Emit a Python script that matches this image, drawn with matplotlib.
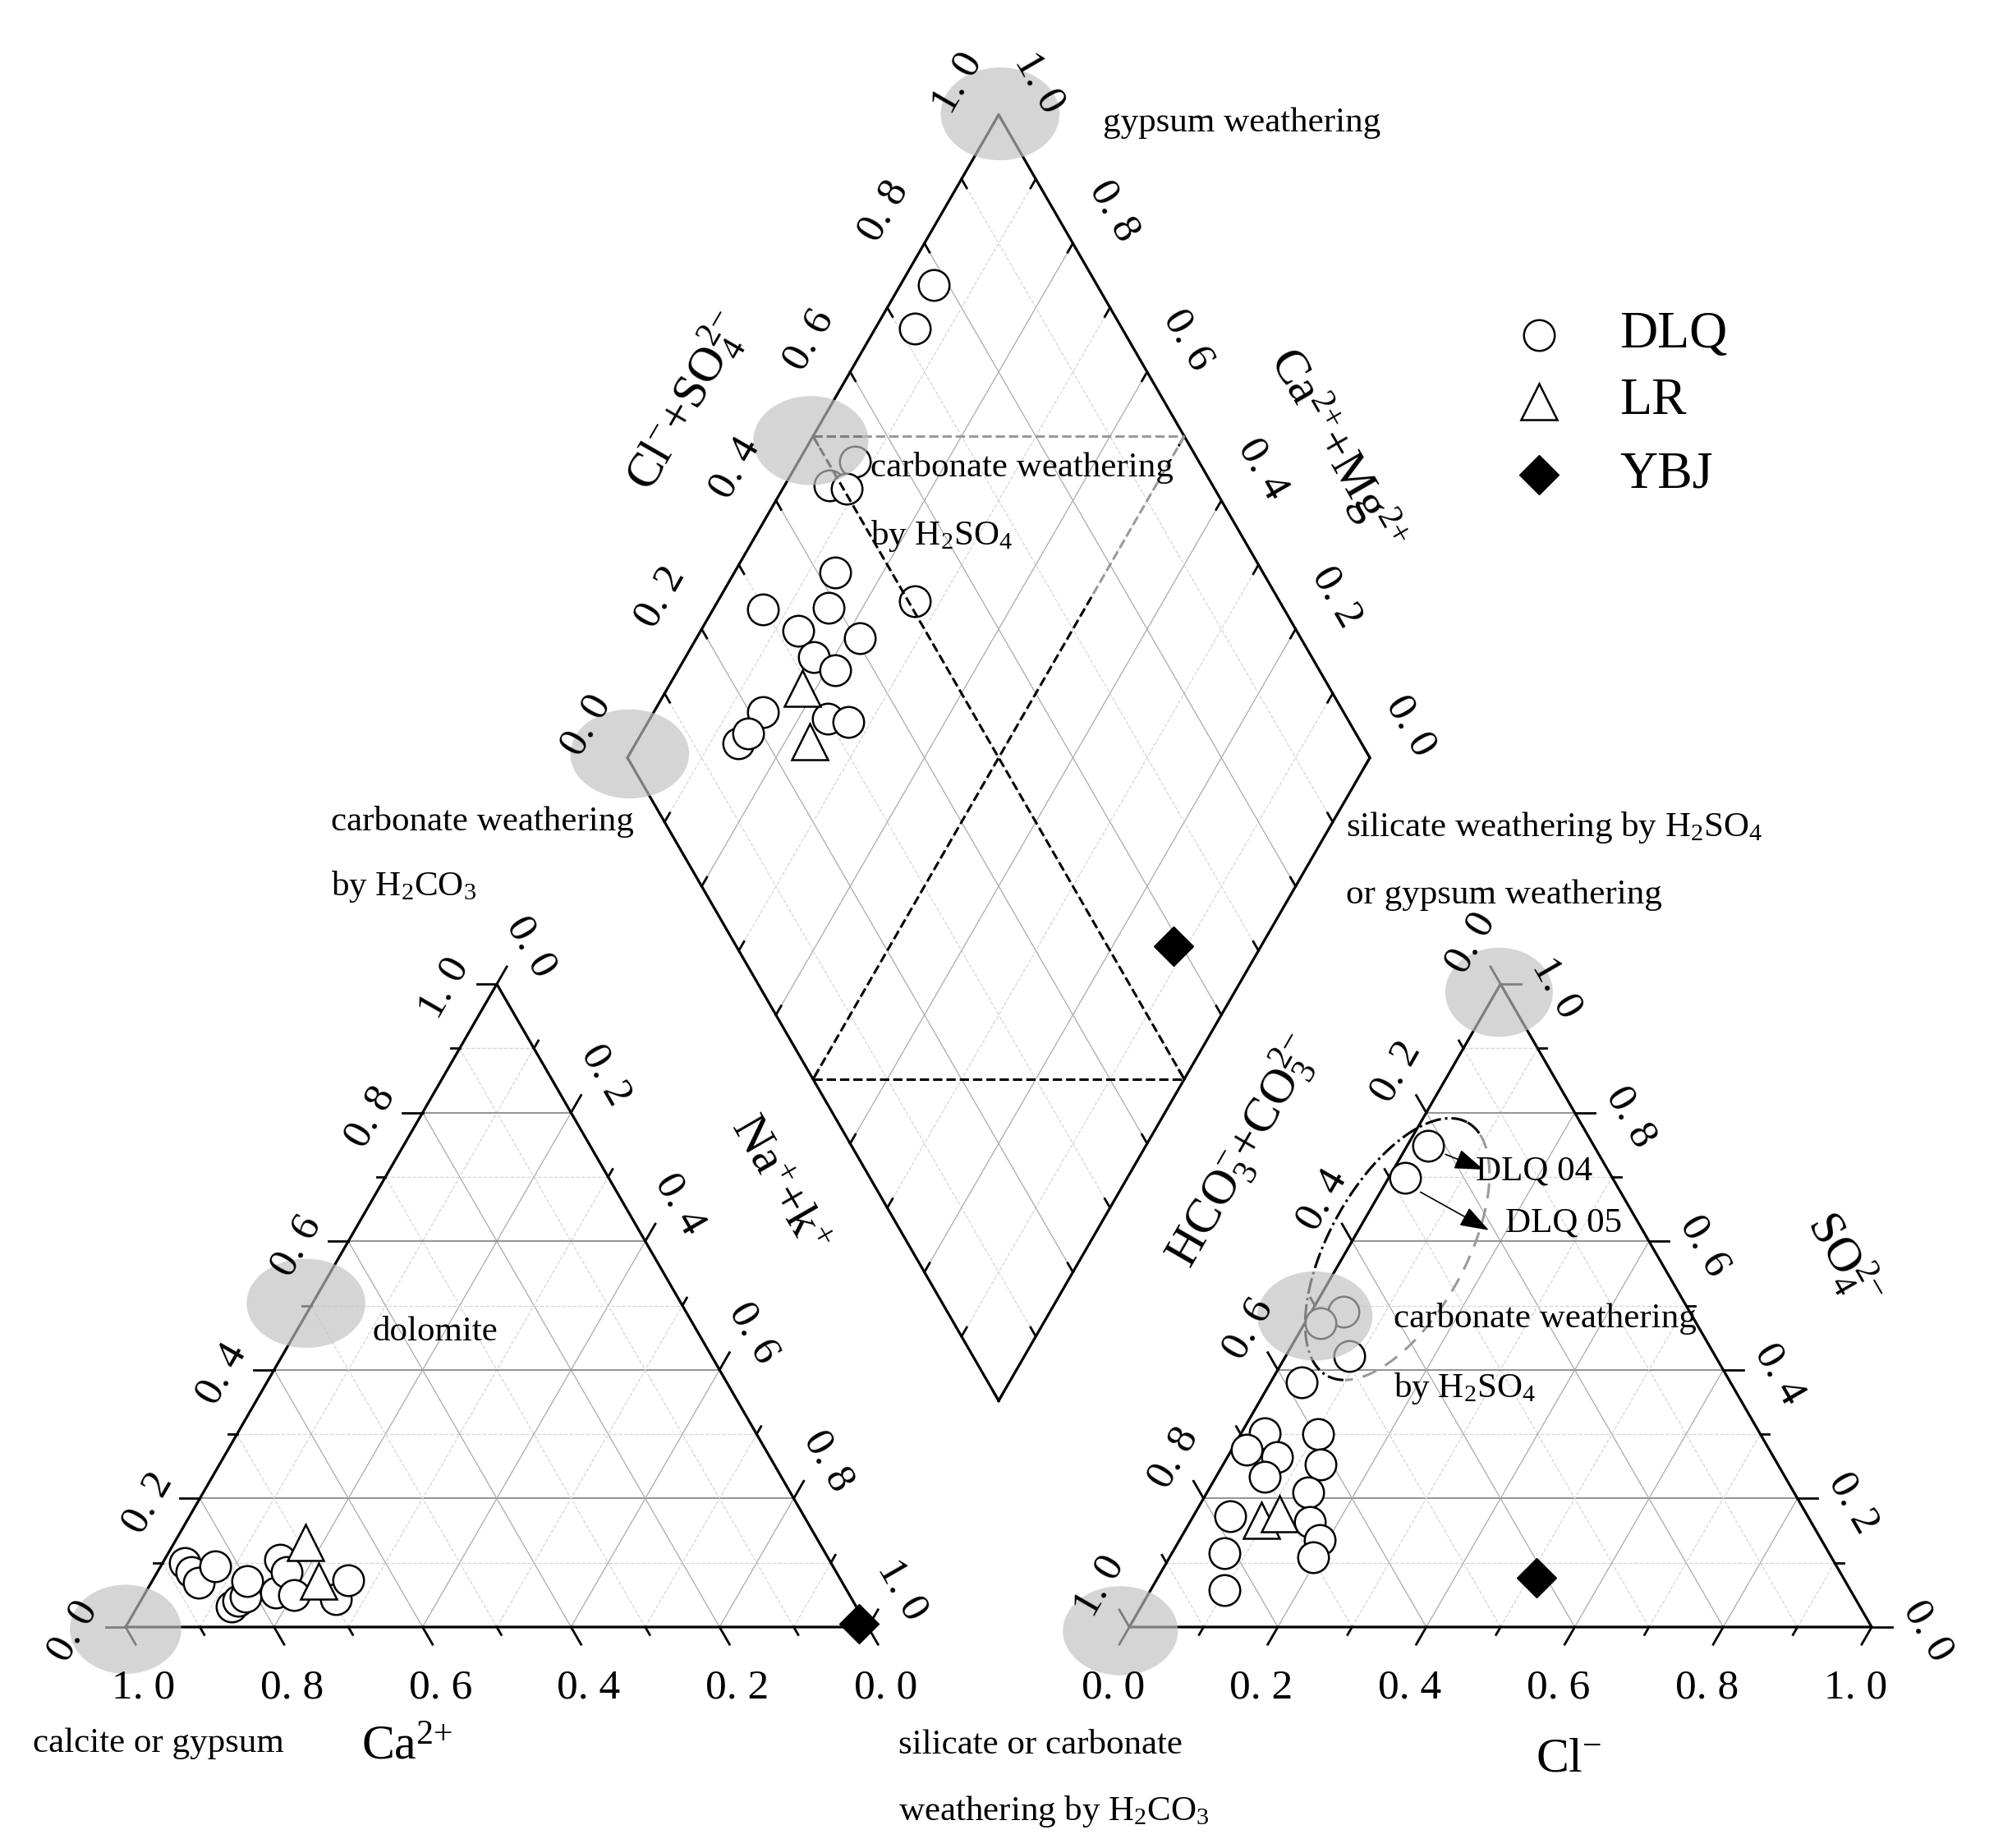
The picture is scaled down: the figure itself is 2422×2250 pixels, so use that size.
import numpy as np
import matplotlib.pyplot as plt
from matplotlib.patches import Ellipse

plt.rcParams['font.family'] = ['Liberation Serif', 'DejaVu Serif']
plt.rcParams['mathtext.fontset'] = 'custom'
plt.rcParams['mathtext.rm'] = 'Liberation Serif'
plt.rcParams['mathtext.default'] = 'rm'

# cation triangle: Ca2+ and Mg2+ fractions (Na+ + K+ = rest)
dlq_ca = [0.871, 0.869, 0.867, 0.832, 0.841, 0.828, 0.815, 0.801, 0.771, 0.740, 0.740, 0.748, 0.695, 0.664]
dlq_mg = [0.099, 0.086, 0.069, 0.095, 0.032, 0.041, 0.047, 0.071, 0.054, 0.105, 0.086, 0.050, 0.044, 0.073]
lr_ca = [0.692, 0.704]
lr_mg = [0.131, 0.071]
ybj_ca = [0.01]
ybj_mg = [0.005]

# anion triangle: Cl- and SO4 2- fractions (HCO3 + CO3 = rest)
dlq_cl = [0.043, 0.022, 0.086, 0.042, 0.031, 0.020, 0.066, 0.104, 0.065, 0.131,
          0.136, 0.050, 0.161, 0.188, 0.071, 0.194, 0.100]
dlq_so4 = [0.491, 0.472, 0.421, 0.380, 0.302, 0.276, 0.265, 0.300, 0.234, 0.253,
           0.210, 0.172, 0.164, 0.136, 0.115, 0.108, 0.057]
dlq04 = (0.029, 0.748)
dlq05 = (0.022, 0.699)
lr_cl = [0.095, 0.114]
lr_so4 = [0.166, 0.176]
ybj_cl = [0.511]
ybj_so4 = [0.076]

# diamond: Cl- + SO4 2- and Ca2+ + Mg2+
dlq_a = [0.780, 0.721, 0.536, 0.484, 0.424, 0.298, 0.387, 0.509, 0.329, 0.406,
         0.329, 0.348, 0.218, 0.300, 0.326, 0.160, 0.181, 0.504]
dlq_c = [0.955, 0.947, 0.924, 0.939, 0.864, 0.933, 0.846, 0.735, 0.868, 0.780,
         0.828, 0.788, 0.853, 0.761, 0.730, 0.862, 0.857, 0.914]
lr_a = [0.290, 0.258]
lr_c = [0.818, 0.767]
ybj_a = [0.589]
ybj_c = [0.118]

tick_vals = [0.0, 0.2, 0.4, 0.6, 0.8, 1.0]

# geometry -----------------------------
H = np.sqrt(3) / 2
GAP = 0.352
OX = 1 + GAP                       # anion triangle origin
BX, BY = 1 + GAP / 2, GAP * H      # diamond bottom vertex


def cat_xy(ca, mg):
    ca, mg = np.asarray(ca), np.asarray(mg)
    return 1 - ca - 0.5 * mg, H * mg


def an_xy(cl, so4):
    cl, so4 = np.asarray(cl), np.asarray(so4)
    return OX + cl + 0.5 * so4, H * so4


def dia_xy(a, c):
    a, c = np.asarray(a), np.asarray(c)
    return BX + 0.5 * (a - c), BY + H * (a + c)


def lab(v):
    s = '%.1f' % v
    return s.replace('.', '. ')


fig = plt.figure(figsize=(24.22, 22.5), dpi=100)
ax = fig.add_axes([0, 0, 1, 1])
ax.set_xlim(-0.1692, 2.510)
ax.set_ylim(-0.2976, 2.1914)
ax.axis('off')

MAJ = dict(color='#8a8a8a', lw=1.3, zorder=1)
DIAG = dict(color='#aaaaaa', lw=0.9, zorder=1)
MINOR = dict(color='#d6d6d6', lw=0.9, ls='--', zorder=1)

# grids of the two triangles
for ox in (0, OX):
    for k in range(1, 10):
        f = k / 10
        major = k % 2 == 0
        ax.plot([ox + f / 2, ox + 1 - f / 2], [f * H, f * H], **(MAJ if major else MINOR))
        ax.plot([ox + f, ox + f + (1 - f) / 2], [0, (1 - f) * H], **(DIAG if major else MINOR))
        ax.plot([ox + 1 - f, ox + (1 - f) / 2], [0, (1 - f) * H], **(DIAG if major else MINOR))
    ax.plot([ox, ox + 1, ox + 0.5, ox], [0, 0, H, 0], color='k', lw=2.3, zorder=2)

# diamond grid
for k in range(1, 10):
    f = k / 10
    st = DIAG if k % 2 == 0 else MINOR
    x, y = dia_xy([f, f], [0, 1])
    ax.plot(x, y, **st)
    x, y = dia_xy([0, 1], [f, f])
    ax.plot(x, y, **st)
x, y = dia_xy([0, 1, 1, 0, 0], [0, 0, 1, 1, 0])
ax.plot(x, y, color='k', lw=2.3, zorder=2)


def ticks(px, py, d, vals, maj_len=0.027, min_len=0.012):
    for i, v in enumerate(vals):
        L = maj_len if i % 2 == 0 else min_len
        ax.plot([px[i], px[i] + d[0] * L], [py[i], py[i] + d[1] * L], color='k', lw=2.0, zorder=2)


allv = np.linspace(0, 1, 11)
# cation triangle ticks
ticks(*cat_xy(allv, 0 * allv), (0.5, -H), allv)
ticks(*cat_xy(1 - allv, allv), (-1, 0), allv)
ticks(*cat_xy(0 * allv, 1 - allv), (0.5, H), allv)
# anion triangle
ticks(*an_xy(allv, 0 * allv), (-0.5, -H), allv)
ticks(*an_xy(0 * allv, 1 - allv), (-0.5, H), allv)
ticks(*an_xy(1 - allv, allv), (1, 0), allv)
# diamond (inward)
ticks(*dia_xy(allv, 1 + 0 * allv), (0.5, -H), allv, 0.014, 0.014)
ticks(*dia_xy(1 + 0 * allv, allv), (-0.5, -H), allv, 0.014, 0.014)
ticks(*dia_xy(0 * allv, allv), (0.5, H), allv, 0.014, 0.014)
ticks(*dia_xy(allv, 0 * allv), (-0.5, H), allv, 0.014, 0.014)

TL = dict(fontsize=37, ha='center', va='center', zorder=6)
for v in tick_vals:
    x, y = cat_xy(v, 0)
    ax.text(x + 0.024, y - 0.082, lab(v), **TL)
    x, y = cat_xy(1 - v, v)
    ax.text(x - 0.07, y - 0.006, lab(v), rotation=60, **TL)
    x, y = cat_xy(0, 1 - v)
    ax.text(x + 0.046, y + 0.05, lab(v), rotation=-60, **TL)
    x, y = an_xy(v, 0)
    ax.text(x - 0.022, y - 0.082, lab(v), **TL)
    x, y = an_xy(0, 1 - v)
    ax.text(x - 0.04, y + 0.055, lab(v), rotation=60, **TL)
    x, y = an_xy(1 - v, v)
    ax.text(x + 0.075, y - 0.006, lab(v), rotation=-60, **TL)
    x, y = dia_xy(v, 1)
    ax.text(x - 0.055, y + 0.043, lab(v), rotation=60, **TL)
    x, y = dia_xy(1, v)
    ax.text(x + 0.055, y + 0.043, lab(v), rotation=-60, **TL)

# dashed lines in the diamond
ul, ur = dia_xy(0.5, 1), dia_xy(1, 0.5)
lr_, ll = dia_xy(0.5, 0), dia_xy(0, 0.5)
DK = dict(color='k', lw=2.2, ls='--', zorder=4)
GR = dict(color='#9a9a9a', lw=2.2, ls='--', zorder=4)
xm = ul[0] + 0.066
ax.plot([ul[0], xm], [ul[1], ul[1]], **DK)
ax.plot([xm, ur[0]], [ul[1], ur[1]], **GR)
ax.plot([ll[0], lr_[0]], [ll[1], lr_[1]], **DK)
ax.plot([ul[0], lr_[0]], [ul[1], lr_[1]], **DK)
mid = (ur[0] + 0.25 * (ll[0] - ur[0]), ur[1] + 0.25 * (ll[1] - ur[1]))
ax.plot([ur[0], mid[0]], [ur[1], mid[1]], **GR)
ax.plot([mid[0], ll[0]], [mid[1], ll[1]], **DK)

# samples
CIR = dict(ls='none', marker='o', ms=27, mfc='white', mec='k', mew=1.8, zorder=3)
TRI = dict(ls='none', marker='^', ms=32, mfc='white', mec='k', mew=1.8, zorder=3)
DIA = dict(ls='none', marker='D', ms=24, mfc='k', mec='k', zorder=3)
ax.plot(*cat_xy(dlq_ca, dlq_mg), **CIR)
ax.plot(*cat_xy(lr_ca, lr_mg), **TRI)
ax.plot(*cat_xy(ybj_ca, ybj_mg), **DIA)
ax.plot(*an_xy(dlq_cl + [dlq04[0], dlq05[0]], dlq_so4 + [dlq04[1], dlq05[1]]), **CIR)
ax.plot(*an_xy(lr_cl, lr_so4), **TRI)
ax.plot(*an_xy(ybj_cl, ybj_so4), **DIA)
ax.plot(*dia_xy(dlq_a, dlq_c), **CIR)
ax.plot(*dia_xy(lr_a, lr_c), **TRI)
ax.plot(*dia_xy(ybj_a, ybj_c), **DIA)

# gray highlight ellipses
for (cx, cy, w, h) in [(1.178, 2.038, 0.16, 0.125), (0.679, 1.176, 0.16, 0.12),
                       (0.923, 1.598, 0.155, 0.12), (0.0, -0.003, 0.15, 0.12),
                       (0.243, 0.436, 0.16, 0.12), (1.850, 0.855, 0.145, 0.12),
                       (1.602, 0.419, 0.155, 0.12), (1.340, -0.005, 0.155, 0.12)]:
    ax.add_patch(Ellipse((cx, cy), w, h, fc='#c0c0c0', ec='none', alpha=0.66, zorder=5))

# dashed outline around DLQ 04 / DLQ 05
ang = np.radians(61)
u = np.array([np.cos(ang), np.sin(ang)])
n = np.array([np.sin(ang), -np.cos(ang)])
cen = np.array([1.713, 0.509])
t = np.linspace(0, 2 * np.pi, 300)
pts = cen[:, None] + 0.195 * np.cos(t) * u[:, None] + 0.092 * np.sin(t) * n[:, None]
right = (t > 0.25) & (t < np.pi - 0.25)
ax.plot(pts[0][right], pts[1][right], color='#9a9a9a', lw=2.2, ls=(0, (6, 4)), zorder=4)
left = t >= np.pi - 0.25
ax.plot(pts[0][left], pts[1][left], color='k', lw=2.2, ls='-.', zorder=4)
ax.plot(pts[0][t <= 0.25], pts[1][t <= 0.25], color='k', lw=2.2, ls='-.', zorder=4)

p4 = an_xy(*dlq04)
p5 = an_xy(*dlq05)
AP = dict(arrowstyle='-|>,head_length=1.0,head_width=0.35', color='k', lw=1.2, mutation_scale=22)
ax.annotate('', xy=(1.832, 0.615), xytext=(float(p4[0]) + 0.02, float(p4[1]) - 0.01), arrowprops=AP, zorder=6)
ax.annotate('', xy=(1.839, 0.533), xytext=(float(p5[0]) + 0.018, float(p5[1]) - 0.018), arrowprops=AP, zorder=6)
ax.text(1.819, 0.614, 'DLQ 04', fontsize=31, va='center', zorder=6)
ax.text(1.858, 0.544, 'DLQ 05', fontsize=31, va='center', zorder=6)

# annotations
AN = dict(fontsize=31, ha='left', va='center', zorder=6)
ax.text(1.316, 2.026, 'gypsum weathering', **AN)
ax.text(1.003, 1.561, 'carbonate weathering', **AN)
ax.text(1.003, 1.470, r'by H$_2$SO$_4$', **AN)
ax.text(0.277, 1.085, 'carbonate weathering', **AN)
ax.text(0.277, 0.997, r'by H$_2$CO$_3$', **AN)
ax.text(1.644, 1.077, r'silicate weathering by H$_2$SO$_4$', **AN)
ax.text(1.644, 0.986, 'or gypsum weathering', **AN)
ax.text(0.333, 0.397, 'dolomite', **AN)
ax.text(1.708, 0.415, 'carbonate weathering', **AN)
ax.text(1.708, 0.321, r'by H$_2$SO$_4$', **AN)
ax.text(-0.125, -0.157, 'calcite or gypsum', **AN)
ax.text(1.041, -0.159, 'silicate or carbonate', **AN)
ax.text(1.041, -0.248, r'weathering by H$_2$CO$_3$', **AN)

# axis titles
AT = dict(fontsize=43, ha='center', va='center', zorder=6)
ax.text(0.379, -0.162, r'Ca$^{2{+}}$', **AT)
ax.text(1.944, -0.179, r'Cl$^{-}$', **AT)
ax.text(0.879, 0.595, r'Na$^{+}$+k$^{+}$', rotation=-60, **AT)
ax.text(2.315, 0.496, r'SO$_4^{2{-}}$', rotation=-60, **AT)
ax.text(1.504, 0.641, r'HCO$_3^{-}$+CO$_3^{2{-}}$', rotation=60, **AT)
ax.text(0.756, 1.650, r'Cl$^{-}$+SO$_4^{2{-}}$', rotation=60, **AT)
ax.text(1.631, 1.586, r'Ca$^{2{+}}$+Mg$^{2{+}}$', rotation=-60, **AT)

# legend
ax.plot([1.904], [1.740], **CIR)
ax.plot([1.904], [1.650], **TRI)
ax.plot([1.904], [1.552], **DIA)
for yy, name in [(1.740, 'DLQ'), (1.650, 'LR'), (1.552, 'YBJ')]:
    ax.text(2.012, yy, name, fontsize=46, va='center')

fig.savefig('out.png', dpi=100)
